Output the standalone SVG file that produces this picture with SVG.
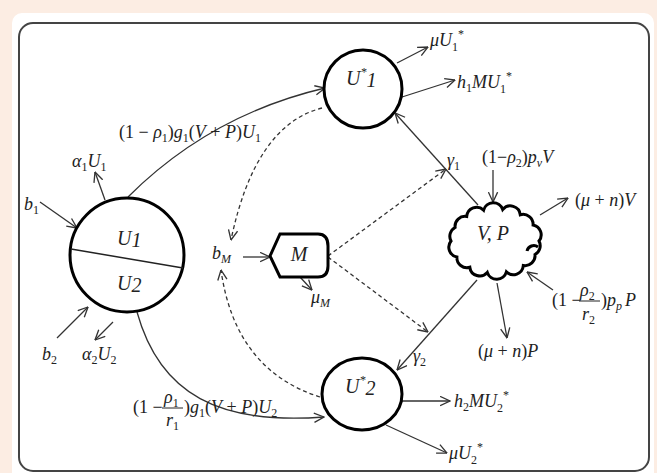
<svg xmlns="http://www.w3.org/2000/svg" width="657" height="473" viewBox="0 0 657 473">
<style>
text{font-family:"Liberation Serif","Times New Roman",serif;font-size:18px;fill:#222}
.i{font-style:italic}
.s{font-size:12px}
.nt{font-size:20px;font-style:italic}
.node{fill:#fff;stroke:#000;stroke-width:3}
.c{fill:none;stroke:#333;stroke-width:1.3;marker-end:url(#ah)}
.d{fill:none;stroke:#333;stroke-width:1.3;stroke-dasharray:4 3;marker-end:url(#ah)}
.bar{stroke:#222;stroke-width:1}
</style>
<defs>
<marker id="ah" viewBox="0 0 10 10" refX="9.5" refY="5" markerWidth="11" markerHeight="11" markerUnits="userSpaceOnUse" orient="auto">
<path d="M0.5,0.8 L9.5,5 L0.5,9.2" fill="none" stroke="#333" stroke-width="1.2"/>
</marker>
</defs>
<rect width="657" height="473" fill="#fcede3"/>
<rect x="12" y="13" width="642" height="475" rx="10" fill="#fff"/>
<rect x="19" y="23" width="630" height="448" rx="14" fill="none" stroke="#444" stroke-width="2"/>

<g id="connectors">
<path class="c" d="M128,197 Q210,115 325,88"/>
<path class="c" d="M137,312 C160,395 220,425 324,417"/>
<path class="d" d="M322,108 Q255,125 231,240"/>
<path class="d" d="M320,397 Q235,370 221,270"/>
<path class="d" d="M328,256 L446,169"/>
<path class="d" d="M328,257 L428,332"/>
<path class="c" d="M40,202 L77,228"/>
<path class="c" d="M105,200 L95,172"/>
<path class="c" d="M57,338 L88,307"/>
<path class="c" d="M113,322 L95,340"/>
<path class="c" d="M243,257 L270,257"/>
<path class="c" d="M300,277 L312,290"/>
<path class="c" d="M397,63 L428,47"/>
<path class="c" d="M402,97 L455,80"/>
<path class="c" d="M478,205 L395,113"/>
<path class="c" d="M493,170 L493,202"/>
<path class="c" d="M540,215 L568,198"/>
<path class="c" d="M553,290 L527,272"/>
<path class="c" d="M497,283 L507,338"/>
<path class="c" d="M477,280 L397,370"/>
<path class="c" d="M402,401 L450,401"/>
<path class="c" d="M386,425 L447,453"/>
</g>

<g id="U12">
<circle class="node" cx="127" cy="255" r="57"/>
<line x1="71" y1="249" x2="183" y2="268" stroke="#222" stroke-width="1.5"/>
<text class="nt" x="117" y="245">U<tspan y="247">1</tspan></text>
<text class="nt" x="117" y="290">U<tspan y="292">2</tspan></text>
</g>

<g id="Ustar1">
<circle class="node" cx="363" cy="89" r="39"/>
<text class="nt" x="346" y="85">U<tspan class="s" y="76">*</tspan><tspan y="87">1</tspan></text>
</g>

<g id="Ustar2">
<ellipse class="node" cx="362" cy="394" rx="40" ry="36"/>
<text class="nt" x="345" y="393">U<tspan class="s" y="384">*</tspan><tspan y="395">2</tspan></text>
</g>

<g id="M">
<path class="node" d="M270,256 L280,234 L318,234 Q328,234 328,246 L328,266 Q328,277 318,277 L280,277 Z"/>
<text class="nt" x="299" y="261" text-anchor="middle">M</text>
</g>

<g id="VP">
<path class="node" d="M539,241 A10,10 0 0,1 535,254.5 A10,10 0 0,1 523.3,265.5 A10,10 0 0,1 506.4,271.9 A10,10 0 0,1 487.3,272.5 A10,10 0 0,1 469.8,267.2 A10,10 0 0,1 456.9,257 A10,10 0 0,1 451,241 A10,10 0 0,1 455.1,227.5 A10,10 0 0,1 466.7,216.5 A10,10 0 0,1 483.6,210.1 A10,10 0 0,1 502.7,209.5 A10,10 0 0,1 520.3,214.8 A10,10 0 0,1 533.1,225 A10,10 0 0,1 539,241 Z"/>
<path d="M527,251 A7,7 0 0,1 538,247" fill="none" stroke="#000" stroke-width="3"/>
<text class="nt" x="493" y="240" text-anchor="middle">V, P</text>
</g>

<g id="labels">
<text x="119" y="138">(1 − <tspan class="i">ρ</tspan><tspan class="s" y="142">1</tspan><tspan y="138">)</tspan><tspan class="i">g</tspan><tspan class="s" y="142">1</tspan><tspan y="138">(</tspan><tspan class="i">V</tspan> + <tspan class="i">P</tspan>)<tspan class="i">U</tspan><tspan class="s" y="142">1</tspan></text>
<text x="72" y="167"><tspan class="i">α</tspan><tspan class="s" y="171">1</tspan><tspan class="i" y="167">U</tspan><tspan class="s" y="171">1</tspan></text>
<text x="24" y="210"><tspan class="i">b</tspan><tspan class="s" y="214">1</tspan></text>
<text x="42" y="360"><tspan class="i">b</tspan><tspan class="s" y="364">2</tspan></text>
<text x="82" y="360"><tspan class="i">α</tspan><tspan class="s" y="364">2</tspan><tspan class="i" y="360">U</tspan><tspan class="s" y="364">2</tspan></text>
<text x="212" y="259"><tspan class="i">b</tspan><tspan class="s i" y="263">M</tspan></text>
<text x="311" y="303"><tspan class="i">μ</tspan><tspan class="s i" y="307">M</tspan></text>
<text x="430" y="46"><tspan class="i">μU</tspan><tspan class="s" y="51">1</tspan><tspan class="s" y="38">*</tspan></text>
<text x="457" y="88"><tspan class="i">h</tspan><tspan class="s" y="92">1</tspan><tspan class="i" y="88">MU</tspan><tspan class="s" y="93">1</tspan><tspan class="s" y="80">*</tspan></text>
<text x="454" y="407"><tspan class="i">h</tspan><tspan class="s" y="411">2</tspan><tspan class="i" y="407">MU</tspan><tspan class="s" y="412">2</tspan><tspan class="s" y="399">*</tspan></text>
<text x="449" y="459"><tspan class="i">μU</tspan><tspan class="s" y="464">2</tspan><tspan class="s" y="451">*</tspan></text>
<text x="447" y="166"><tspan class="i">γ</tspan><tspan class="s" y="170">1</tspan></text>
<text x="413" y="362"><tspan class="i">γ</tspan><tspan class="s" y="366">2</tspan></text>
<text x="482" y="163">(1−<tspan class="i">ρ</tspan><tspan class="s" y="167">2</tspan><tspan y="163">)</tspan><tspan class="i">p</tspan><tspan class="s i" y="167">v</tspan><tspan class="i" y="163">V</tspan></text>
<text x="575" y="206">(<tspan class="i">μ</tspan> + <tspan class="i">n</tspan>)<tspan class="i">V</tspan></text>
<text x="478" y="357">(<tspan class="i">μ</tspan> + <tspan class="i">n</tspan>)<tspan class="i">P</tspan></text>
<text x="552" y="306">(1 −</text>
<text x="580" y="296"><tspan class="i">ρ</tspan><tspan class="s" y="300">2</tspan></text>
<line class="bar" x1="579" y1="301" x2="600" y2="301"/>
<text x="582" y="320"><tspan class="i">r</tspan><tspan class="s" y="324">2</tspan></text>
<text x="601" y="306">)<tspan class="i">p</tspan><tspan class="s i" y="310">p</tspan><tspan class="i" y="306" dx="3">P</tspan></text>
<text x="133" y="413">(1 −</text>
<text x="164" y="403"><tspan class="i">ρ</tspan><tspan class="s" y="407">1</tspan></text>
<line class="bar" x1="162" y1="408" x2="183" y2="408"/>
<text x="166" y="426"><tspan class="i">r</tspan><tspan class="s" y="430">1</tspan></text>
<text x="184" y="413">)<tspan class="i">g</tspan><tspan class="s" y="417">1</tspan><tspan y="413">(</tspan><tspan class="i">V</tspan> + <tspan class="i">P</tspan>)<tspan class="i">U</tspan><tspan class="s" y="417">2</tspan></text>
</g>
</svg>
